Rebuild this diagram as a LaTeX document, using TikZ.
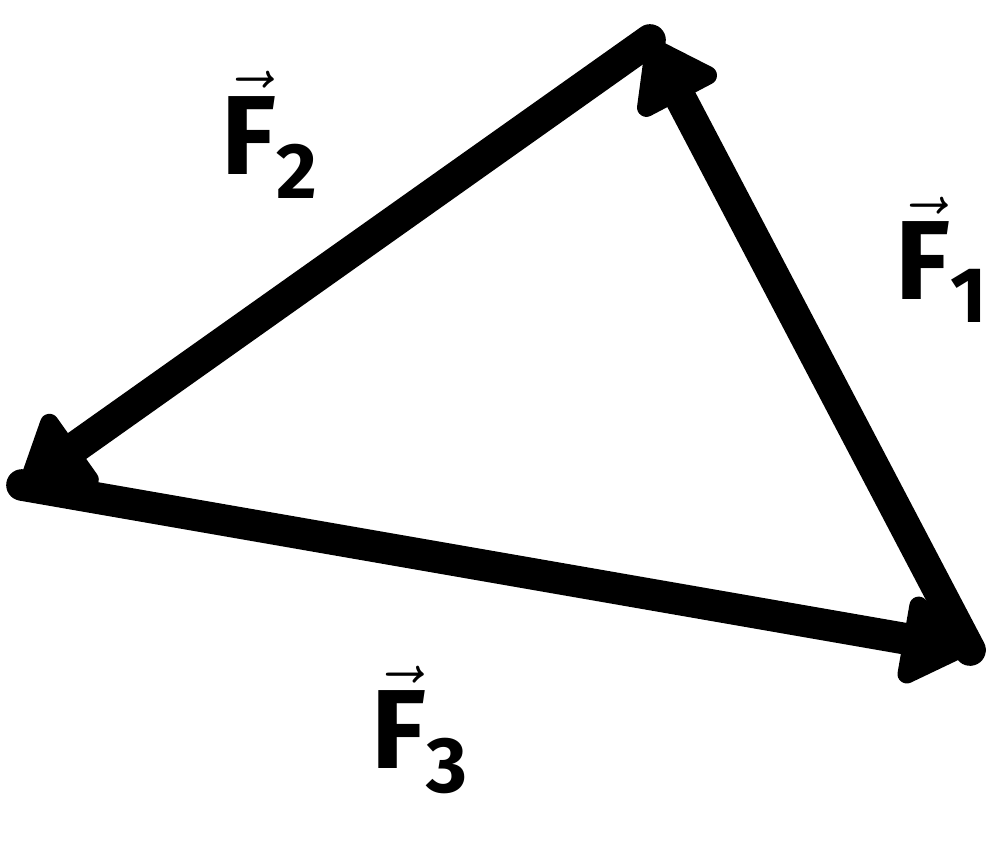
\documentclass[tikz,border=0pt]{standalone}
\usepackage{amsmath}
\usepackage{fontspec}
\setsansfont{Fira Sans}
\usetikzlibrary{arrows.meta}

\tikzset{
  force/.style={line width=9pt, line cap=round, line join=round,
    -{Triangle[round, length=0.75cm, width=1.0cm]}},
  flabel/.style={font=\fontsize{32}{38}\selectfont}
}
\newcommand{\forcevec}[1]{$\vec{\text{\sffamily\bfseries F}}_{\text{\sffamily\bfseries #1}}$}

\begin{document}
\begin{tikzpicture}
			\useasboundingbox (0,0) rectangle (10,8.6);

			% Corners of the triangle
			\coordinate (T) at (6.5,8.2);
			\coordinate (L) at (0.22,3.75);
			\coordinate (R) at (9.7,2.1);

			% Draw vectors
			\draw[force] (R) -- (T);
			\draw[force] (T) -- (L);
			\draw[force] (L) -- (R);

			% Force labels
			\node[flabel] (f1) at (9.42,6.0) {\forcevec{1}};
			\node[flabel] (f2) at (2.7,7.25) {\forcevec{2}};
			\node[flabel] (f3) at (4.2,1.3) {\forcevec{3}};
		\end{tikzpicture}
\end{document}
